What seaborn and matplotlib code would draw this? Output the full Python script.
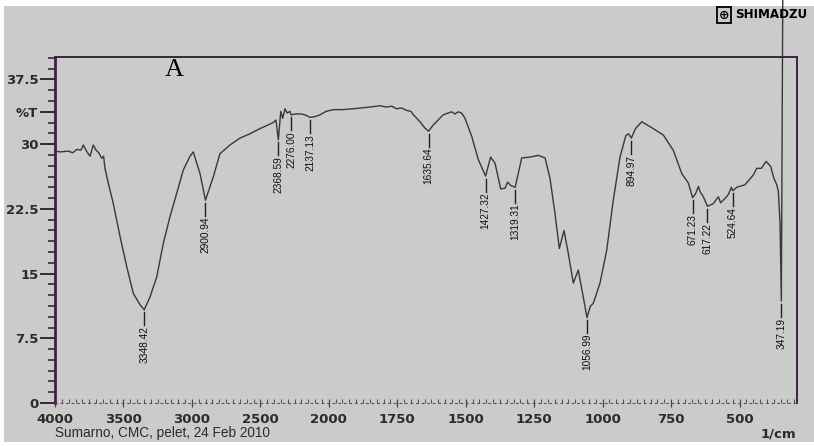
import numpy as np
import pandas as pd
import seaborn as sns
import matplotlib.pyplot as plt
from matplotlib.patches import Rectangle

# FTIR spectrum (wavenumber 1/cm, %T)
wavenumber = [4000, 3960, 3903, 3870, 3840, 3810, 3793, 3770, 3744, 3720, 3700, 3680, 3659, 3645,
              3635, 3611, 3574, 3525, 3476, 3428, 3379, 3348.42, 3306, 3257, 3209, 3160, 3111,
              3063, 3014, 2990, 2941, 2900.94, 2844, 2795, 2722, 2649, 2576, 2503, 2406, 2386,
              2368.59, 2351, 2337, 2320, 2303, 2284, 2276, 2240, 2198, 2160, 2137.13, 2100, 2064,
              2020, 1984, 1950, 1911, 1880, 1850, 1813, 1790, 1770, 1752, 1735, 1715, 1700, 1691,
              1667, 1650, 1635.64, 1619, 1594, 1582, 1551, 1540, 1527, 1515, 1502.6, 1478, 1454,
              1427.32, 1409, 1393, 1372, 1356, 1347, 1335, 1319.31, 1295.5, 1265, 1235, 1210,
              1192, 1174, 1158, 1141, 1125, 1107, 1089, 1073, 1056.99, 1045, 1034, 1009.5, 985,
              961, 936.5, 915, 905, 894.97, 880, 857, 815, 778, 742, 711, 687, 671.23, 660, 650,
              644, 632, 617.22, 596, 577, 569, 547, 540, 530, 524.64, 510, 480, 450, 437, 420,
              403, 386, 374, 364, 358, 352, 347.19, 342]
transmittance = [29.2, 29.1, 29.2, 29.0, 29.4, 29.3, 29.9, 29.2, 28.6, 29.9, 29.3, 29.0, 28.35, 28.6,
                 27.2, 25.5, 23.1, 19.3, 15.8, 12.7, 11.4, 10.8, 12.3, 14.6, 18.5, 21.6, 24.3,
                 27.0, 28.6, 29.1, 26.6, 23.5, 26.2, 28.9, 29.9, 30.7, 31.2, 31.8, 32.5, 32.8,
                 30.5, 33.8, 33.0, 34.1, 33.6, 33.8, 33.4, 33.5, 33.5, 33.3, 33.1, 33.2, 33.4,
                 33.8, 34.0, 34.0, 34.1, 34.2, 34.3, 34.45, 34.3, 34.4, 34.1, 34.2, 33.9, 33.8, 33.4,
                 32.6, 31.9, 31.5, 32.2, 33.0, 33.4, 33.75, 33.5, 33.75, 33.6, 33.0, 30.9, 28.2,
                 26.3, 28.5, 27.8, 24.8, 24.9, 25.6, 25.2, 25.0, 28.4, 28.5, 28.7, 28.4,
                 26.0, 22.0, 17.9, 20.0, 17.3, 13.9, 15.4, 12.7, 9.9, 11.2, 11.55, 13.9, 17.7,
                 23.5, 28.5, 31.0, 31.2, 30.7, 31.8, 32.6, 31.8, 31.05, 29.3, 26.6, 25.5, 23.8, 24.3, 25.1,
                 24.5, 23.9, 22.8, 23.1, 23.9, 23.2, 23.9, 24.2, 25.0, 24.6, 25.0, 25.3, 26.4, 27.2, 27.2,
                 28.0, 27.4, 26.0, 25.3, 24.5, 20.9, 11.8, 47.0]

peak_pos = [3348.42, 2900.94, 2368.59, 2276.00, 2137.13, 1635.64, 1427.32, 1319.31,
            1056.99, 894.97, 671.23, 617.22, 524.64, 347.19]
peak_val = [10.8, 23.5, 30.5, 33.4, 33.1, 31.5, 26.3, 25.0, 9.9, 30.7, 23.8, 22.8, 24.6, 11.8]

x_ticks = [4000, 3500, 3000, 2500, 2000, 1750, 1500, 1250, 1000, 750, 500]
y_ticks = [0, 7.5, 15, 22.5, 30, 33.75, 37.5]
y_labels = ['0', '7.5', '15', '22.5', '30', '%T', '37.5']

df = pd.DataFrame({'wn': wavenumber, 'T': transmittance})

BG = '#cbcbcb'
AX_COL = '#3d2340'
INK = '#2b2b2b'

fig = plt.figure(figsize=(8.14, 4.46), dpi=100, facecolor='white')
fig.add_artist(Rectangle((4 / 814, 4 / 446), 1, 1 - 10 / 446, transform=fig.transFigure,
                         facecolor=BG, edgecolor='none', zorder=0))
ax = fig.add_axes([55 / 814, 43 / 446, 742 / 814, 346 / 446])
ax.set_facecolor(BG)


def fwd(x):
    x = np.asarray(x, dtype=float)
    return np.where(x > 2000, 2000 + (x - 2000) / 2, x)


def inv(u):
    u = np.asarray(u, dtype=float)
    return np.where(u > 2000, 2000 + 2 * (u - 2000), u)


sns.lineplot(data=df, x='wn', y='T', ax=ax, color='#383838', linewidth=1.0,
             estimator=None, sort=False, clip_on=False)

ax.set_xscale('function', functions=(fwd, inv))
ax.set_xlim(4000, 290)
ax.set_ylim(0, 40.1)

# peak markers and labels
for p, v in zip(peak_pos, peak_val):
    ax.plot([p, p], [v - 0.3, v - 1.8], color='#222222', linewidth=1.0)
    ax.text(p, v - 1.9, f'{p:.2f}', rotation=90, ha='center', va='top',
            fontsize=7.3, color='#111111', family=['Liberation Sans Narrow', 'Liberation Sans'])

# axes styling
for side in ['left', 'top', 'right']:
    ax.spines[side].set_color(AX_COL)
ax.spines['left'].set_linewidth(2.0)
ax.spines['top'].set_linewidth(1.4)
ax.spines['right'].set_linewidth(1.4)
ax.spines['bottom'].set_color('#555555')
ax.spines['bottom'].set_linewidth(0.8)
ax.spines['bottom'].set_linestyle((0, (1.5, 3.5)))

ax.set_yticks(y_ticks)
ax.set_yticklabels(y_labels)
ax.set_yticks(np.arange(0, 40.1, 1.25), minor=True)
ax.tick_params(axis='y', which='major', length=11, width=1.4, color=AX_COL, pad=1,
               labelsize=9.5, labelcolor=INK)
ax.tick_params(axis='y', which='minor', length=5, width=1.2, color=AX_COL)

minor_x = list(range(4000, 2000, -50)) + list(range(2000, 299, -25))
ax.set_xticks(x_ticks)
ax.set_xticklabels([str(t) for t in x_ticks])
ax.set_xticks(minor_x, minor=True)
ax.tick_params(axis='x', which='major', direction='inout', length=6, width=0.9, color='#444444',
               pad=4, labelsize=9.5, labelcolor=INK)
ax.tick_params(axis='x', which='minor', direction='in', length=3, width=0.8, color='#555555')
for lab in ax.get_xticklabels() + ax.get_yticklabels():
    lab.set_fontweight('bold')
    lab.set_family('DejaVu Sans')
ax.set_xlabel('')
ax.set_ylabel('')

# texts around the plot
fig.text(165 / 814, 1 - 70 / 446, 'A', ha='left', va='center', fontsize=19,
         family='Liberation Serif', color='black')
fig.text(55 / 814, 1 - 433 / 446, 'Sumarno, CMC, pelet, 24 Feb 2010', ha='left', va='center',
         fontsize=9.8, family='Liberation Sans', color=INK)
fig.text(796 / 814, 1 - 434 / 446, '1/cm', ha='right', va='center', fontsize=9.5,
         fontweight='bold', family='DejaVu Sans', color=INK)
fig.text(724 / 814, 1 - 15 / 446, '\u2295', ha='center', va='center', fontsize=9,
         fontweight='bold', family='DejaVu Sans', color='black',
         bbox=dict(boxstyle='square,pad=0.12', facecolor='none', edgecolor='black', linewidth=1.3))
fig.text(735 / 814, 1 - 15 / 446, 'SHIMADZU', ha='left', va='center', fontsize=8.6,
         fontweight='heavy', family='DejaVu Sans', color='black')

fig.savefig('out.png', dpi=100, facecolor=fig.get_facecolor())
